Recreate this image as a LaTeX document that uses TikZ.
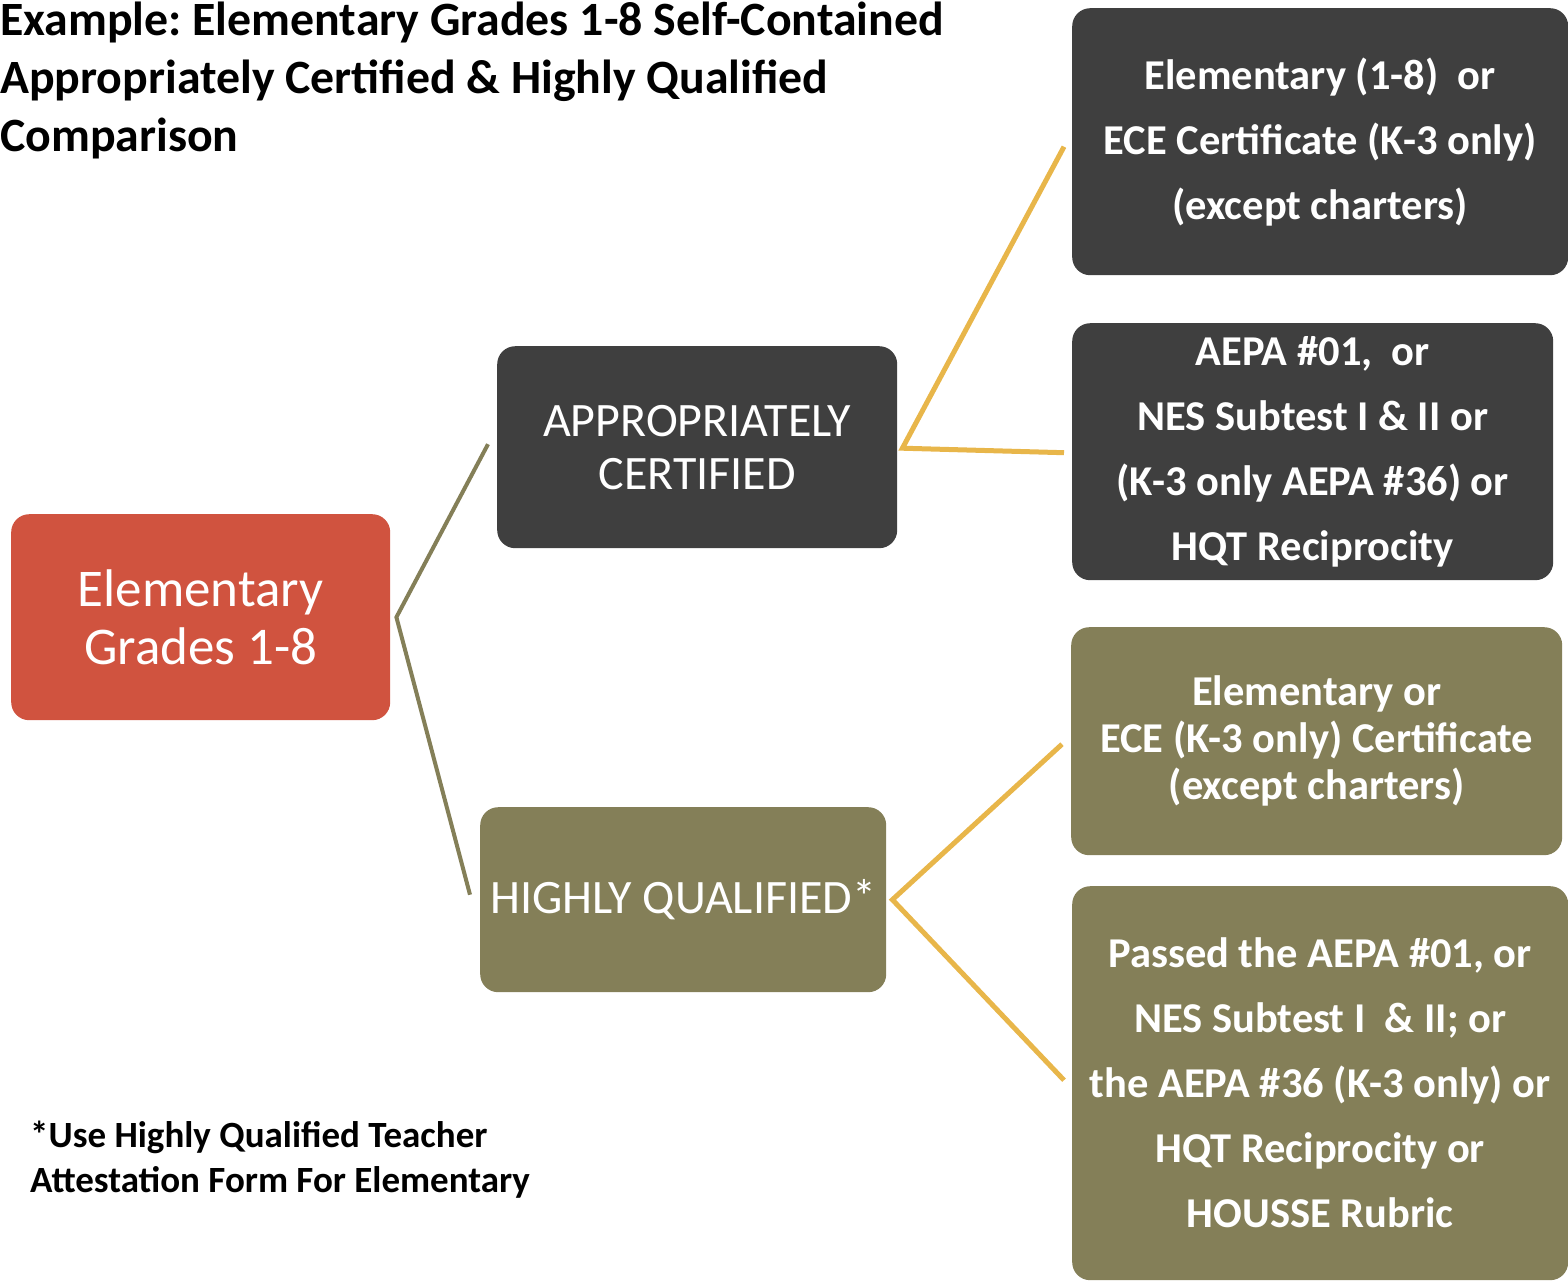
\documentclass[tikz,border=0pt]{standalone}
\usepackage{fontspec}
\setmainfont{Carlito}
\frenchspacing
\definecolor{elred}{HTML}{D0533F}
\definecolor{dkgray}{HTML}{3F3F3F}
\definecolor{olive}{HTML}{847F58}
\definecolor{gold}{HTML}{E8B64A}
\tikzset{
  box/.style={rounded corners=18pt, text=white, align=center, inner sep=0pt, anchor=north west},
  boldbig/.style={font=\fontsize{42.5}{65}\selectfont\bfseries},
  oline/.style={draw=olive, line width=4pt},
  gline/.style={draw=gold, line width=5pt}
}
\begin{document}
\begin{tikzpicture}[x=1pt,y=-1pt]
\useasboundingbox (0,0) rectangle (1568,1280);
% title
\node[anchor=north west, inner sep=0pt, align=left, font=\fontsize{47.8}{58}\selectfont\bfseries] (title) at (0,2)
  {Example: Elementary Grades 1-8 Self-Contained\\Appropriately Certified \& Highly Qualified\\Comparison};
% left
\node[box, fill=elred, minimum width=379pt, minimum height=206pt, font=\fontsize{53}{58}\selectfont] (el) at (11,514) {Elementary\\Grades 1-8};
\node[box, fill=dkgray, minimum width=400pt, minimum height=202pt, font=\fontsize{48}{53}\selectfont] (ac) at (497,346) {APPROPRIATELY\\CERTIFIED};
\node[box, fill=olive, minimum width=406pt, minimum height=185pt, font=\fontsize{48}{53}\selectfont] (hq) at (480,807) {HIGHLY QUALIFIED*};
% right
\node[box, boldbig, fill=dkgray, minimum width=496pt, minimum height=267pt] (r1) at (1072,8)
  {Elementary (1-8)\ \ or\\ECE Certificate (K-3 only)\\(except charters)};
\node[box, boldbig, fill=dkgray, minimum width=481pt, minimum height=257pt] (r2) at (1072,323)
  {AEPA \#01,\ \ or\\NES Subtest I \& II or\\(K-3 only AEPA \#36) or\\HQT Reciprocity};
\node[box, font=\fontsize{42.5}{47}\selectfont\bfseries, fill=olive, minimum width=491pt, minimum height=228pt] (r3) at (1071,627)
  {Elementary or\\ECE (K-3 only) Certificate\\(except charters)};
\node[box, boldbig, fill=olive, minimum width=496pt, minimum height=394pt] (r4) at (1072,886)
  {Passed the AEPA \#01, or\\NES Subtest I\ \ \& II; or\\the AEPA \#36 (K-3 only) or\\HQT Reciprocity or\\HOUSSE Rubric};
% footnote
\node[anchor=north west, inner sep=0pt, align=left, font=\fontsize{37}{45}\selectfont\bfseries] (fn) at (30,1121)
  {*Use Highly Qualified Teacher\\Attestation Form For Elementary};
% connectors
\coordinate (j1) at ([xshift=6pt]el.east);
\coordinate (j2) at ([xshift=5pt,yshift=-1pt]ac.east);
\coordinate (j3) at ([xshift=6pt]hq.east);
\draw[oline] ([xshift=-9pt,yshift=3pt]ac.west) -- (j1) -- ([xshift=-10pt,yshift=5pt]hq.west);
\draw[gline] ([xshift=-8pt,yshift=-5pt]r1.west) -- (j2) -- ([xshift=-8pt,yshift=-1pt]r2.west);
\draw[gline] ([xshift=-9pt,yshift=-3pt]r3.west) -- (j3) -- ([xshift=-8pt,yshift=3pt]r4.west);
\end{tikzpicture}
\end{document}
